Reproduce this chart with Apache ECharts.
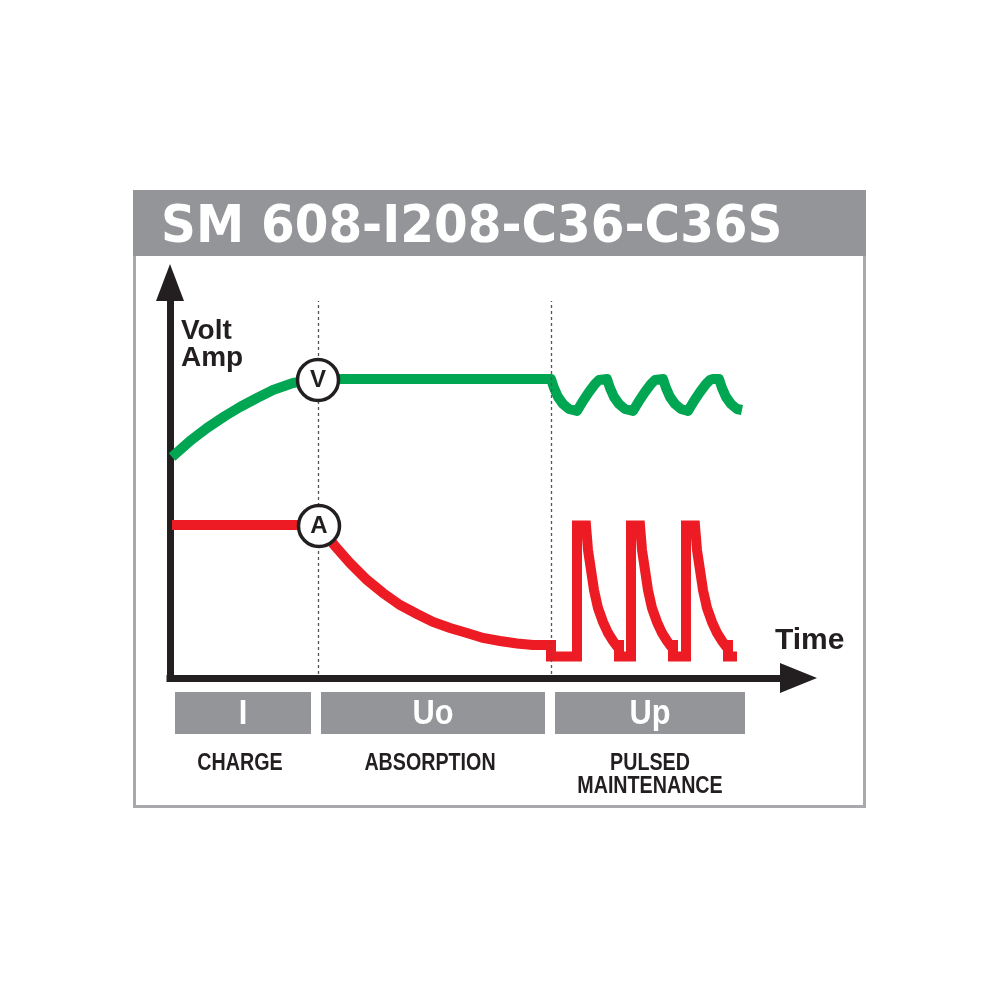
<!DOCTYPE html>
<html><head><meta charset="utf-8">
<script src="https://cdn.jsdelivr.net/npm/echarts@6/dist/echarts.min.js"></script>
<style>html,body{margin:0;padding:0;background:#fff}#c{width:1000px;height:1000px}</style>
</head><body><div id="c"></div>
<script>
// ---- data (time units / level units) ----
const chartTitle = 'SM 608-I208-C36-C36S';
const yAxisLabels = ['Volt', 'Amp'];
const xAxisLabel = 'Time';

const voltTime  = [2,20,37,55,70,87,103,123,148,
  381,384,388,393,399,407,413,419,425,429,431,437,
  440,444,449,455,463,469,475,481,485,487,493,
  496,500,505,511,518,524,530,536,540,543,549,
  552,556,561,567,572];
const voltLevel = [221,237,250,262,271,280,288,295,299,
  299,290,281,274,269,267,277,286,294,298,299,299,
  290,281,274,269,267,277,286,294,298,299,299,
  290,281,274,269,267,277,286,294,298,299,299,
  290,281,274,269,268];

const ampTime  = [2,148,150,165,180,197,213,230,247,263,280,297,313,330,347,363,381,
  381,407,407,416,418,421,424,428,433,438,443,446,449,449,
  461,461,470,472,475,478,482,487,492,497,500,503,503,
  516,516,525,527,530,533,537,542,547,552,555,558,558,567];
const ampLevel = [153,153,151,132,115,98,85,73,64,56,50,45,40,37,34.5,33,33,
  21.5,21.5,152.5,152.5,128,108,88,70,56,45,37,33,33,21.5,
  21.5,152.5,152.5,128,108,88,70,56,45,37,33,33,21.5,
  21.5,152.5,152.5,128,108,88,70,56,45,37,33,33,21.5,21.5];

const markerNames = ['V', 'A'];
const markerTime  = [148, 149];
const markerLevel = [298, 152];

const phaseDividers = [148, 381];
const dividerFrom = 4, dividerTo = 377;

const phaseStart = [5, 151, 385];
const phaseEnd   = [141, 375, 575];
const phaseCode  = ['I', 'Uo', 'Up'];
const phaseName  = ['CHARGE', 'ABSORPTION', 'PULSED\nMAINTENANCE'];

// ---- chart ----
const BLACK = '#231f20', GREEN = '#00a651', RED = '#ed1c24', GREY = '#939598';
const SANS = '"Liberation Sans", Arial, sans-serif';

const chart = echarts.init(document.getElementById('c'), null, {renderer: 'canvas'});
const pairs = (a, b) => a.map((v, i) => [v, b[i]]);

chart.setOption({
  animation: false,
  backgroundColor: '#fff',
  graphic: [
    {type: 'rect', z: -10, shape: {x: 134.5, y: 191.5, width: 730, height: 615},
      style: {fill: '#fff', stroke: '#a7a9ac', lineWidth: 3}},
    {type: 'rect', z: -9, shape: {x: 133, y: 190, width: 733, height: 66}, style: {fill: GREY}},
    {type: 'text', z: -8, x: 161, y: 229, scaleX: 0.95,
      style: {x: 0, y: 0, text: chartTitle, fill: '#fff',
      font: 'bold 51px "DejaVu Sans", sans-serif', verticalAlign: 'middle'}},
    {type: 'text', style: {x: 181, y: 331.5, text: yAxisLabels[0], fill: BLACK,
      font: 'bold 28px ' + SANS, verticalAlign: 'middle'}},
    {type: 'text', style: {x: 181, y: 358, text: yAxisLabels[1], fill: BLACK,
      font: 'bold 28px ' + SANS, verticalAlign: 'middle'}},
    {type: 'text', style: {x: 775, y: 641, text: xAxisLabel, fill: BLACK,
      font: 'bold 30px ' + SANS, verticalAlign: 'middle'}}
  ],
  grid: {left: 170, right: 201.5, top: 282.5, bottom: 322, containLabel: false},
  xAxis: {type: 'value', min: 0, max: 628.5,
    axisLine: {show: true, onZero: false, symbol: ['none', 'triangle'], symbolSize: [30, 37],
      lineStyle: {color: BLACK, width: 7, cap: 'square'}},
    axisTick: {show: false}, axisLabel: {show: false}, splitLine: {show: false}},
  yAxis: {type: 'value', min: 0, max: 395.5,
    axisLine: {show: true, onZero: false, symbol: ['none', 'triangle'], symbolSize: [28, 37],
      lineStyle: {color: BLACK, width: 7, cap: 'square'}},
    axisTick: {show: false}, axisLabel: {show: false}, splitLine: {show: false}},
  series: [
    {type: 'line', name: 'Volt', data: pairs(voltTime, voltLevel), showSymbol: false, silent: true, z: 3,
      lineStyle: {color: GREEN, width: 10, join: 'round', cap: 'butt'}},
    {type: 'line', name: 'Amp', data: pairs(ampTime, ampLevel), showSymbol: false, silent: true, z: 3,
      lineStyle: {color: RED, width: 10, join: 'miter', cap: 'butt'}},
    {type: 'line', name: 'dividers', data: [], silent: true, z: 4,
      markLine: {silent: true, symbol: ['none', 'none'], label: {show: false},
        lineStyle: {color: '#555', width: 1.3, type: [3, 3]},
        data: phaseDividers.map(t => [{coord: [t, dividerFrom]}, {coord: [t, dividerTo]}])}},
    {type: 'scatter', name: 'markers', silent: true, z: 6, symbol: 'circle', symbolSize: 41,
      itemStyle: {color: '#fff', borderColor: BLACK, borderWidth: 3.5, opacity: 1},
      label: {show: true, position: 'inside', formatter: p => p.name, color: BLACK,
        fontSize: 24, fontWeight: 'bold', fontFamily: SANS},
      data: markerNames.map((n, i) => ({name: n, value: [markerTime[i], markerLevel[i]]}))},
    {type: 'custom', name: 'phases', silent: true, clip: false, z: 2,
      encode: {x: [0, 1], y: 2},
      data: phaseStart.map((s, i) => [s, phaseEnd[i], 0]),
      renderItem: function (params, api) {
        const a = api.coord([api.value(0), 0]);
        const b = api.coord([api.value(1), 0]);
        const top = a[1] + 14;
        const cx = (a[0] + b[0]) / 2;
        const i = params.dataIndex;
        return {type: 'group', children: [
          {type: 'rect', shape: {x: a[0], y: top, width: b[0] - a[0], height: 42}, style: {fill: GREY}},
          {type: 'text', x: cx, y: top + 22, scaleX: 0.88,
            style: {x: 0, y: 0, text: phaseCode[i], fill: '#fff',
            font: 'bold 35px ' + SANS, align: 'center', verticalAlign: 'middle'}},
          {type: 'text', x: cx - (i < 2 ? 3 : 0), y: top + 59.6, scaleX: 0.82,
            style: {x: 0, y: 0, text: phaseName[i], fill: BLACK,
            font: 'bold 24px ' + SANS, align: 'center', verticalAlign: 'top', lineHeight: 23}}
        ]};
      }}
  ]
});
</script></body></html>
